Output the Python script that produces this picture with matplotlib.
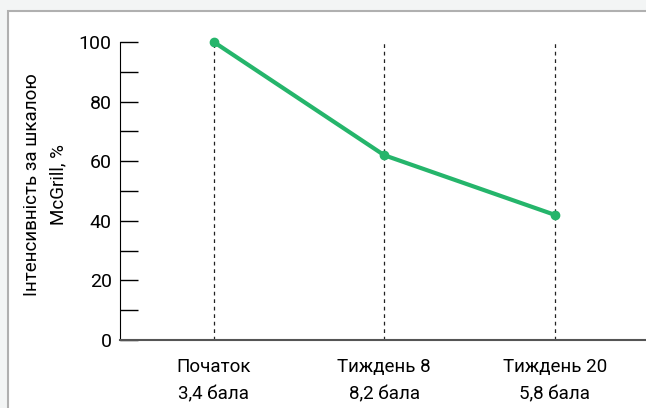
import matplotlib
matplotlib.use("Agg")
import matplotlib.pyplot as plt
from matplotlib.patches import Rectangle

plt.rcParams['font.family'] = ['Roboto', 'DejaVu Sans']

stages = ["Початок\n3,4 бала", "Тиждень 8\n8,2 бала", "Тиждень 20\n5,8 бала"]
intensity = [100, 62, 42]
y_ticks = [0, 20, 40, 60, 80, 100]
green = "#25b56b"

fig = plt.figure(figsize=(6.46, 4.08), dpi=100)
fig.patch.set_facecolor("#f3f5f5")

# white panel with grey frame, behind the axes
frame = Rectangle((8 / 646, -0.1), 1.1, (408 - 11) / 408 + 0.1,
                  transform=fig.transFigure, facecolor="white",
                  edgecolor="#b0b0b0", linewidth=1.5, zorder=-10)
fig.add_artist(frame)

ax = fig.add_axes([120 / 646, 68 / 408, 1 - 120 / 646, 298 / 408])
ax.set_facecolor("none")
ax.set_zorder(5)

x = list(range(len(stages)))
for xi in x:
    ax.plot([xi, xi], [0, 100], color="#222222", linestyle=(0, (3, 3)),
            linewidth=0.9, zorder=1)

ax.plot(x, intensity, color=green, linewidth=3, marker="o", markersize=6,
        clip_on=False, zorder=3)

ax.set_xlim(-0.55, 2.535)
ax.set_ylim(0, 100)
ax.set_yticks(y_ticks)
ax.set_yticks(range(10, 100, 20), minor=True)
ax.tick_params(axis="y", which="both", direction="in", length=13, width=1,
               labelsize=14, pad=6, colors="black")
ax.tick_params(axis="x", length=0, labelsize=13.5, pad=13)
ax.set_xticks(x)
ax.set_xticklabels(stages, linespacing=1.65)

ax.spines["top"].set_visible(False)
ax.spines["right"].set_visible(False)
ax.spines["left"].set_color("black")
ax.spines["bottom"].set_color("#555555")
ax.spines["bottom"].set_linewidth(1.5)

fig.text(45 / 646, 1 - 185 / 408, "Інтенсивність за шкалою\nMcGrill, %",
         rotation=90, ha="center", va="center", fontsize=13.5, linespacing=1.6,
         zorder=6)

fig.savefig("out.png", dpi=100)
